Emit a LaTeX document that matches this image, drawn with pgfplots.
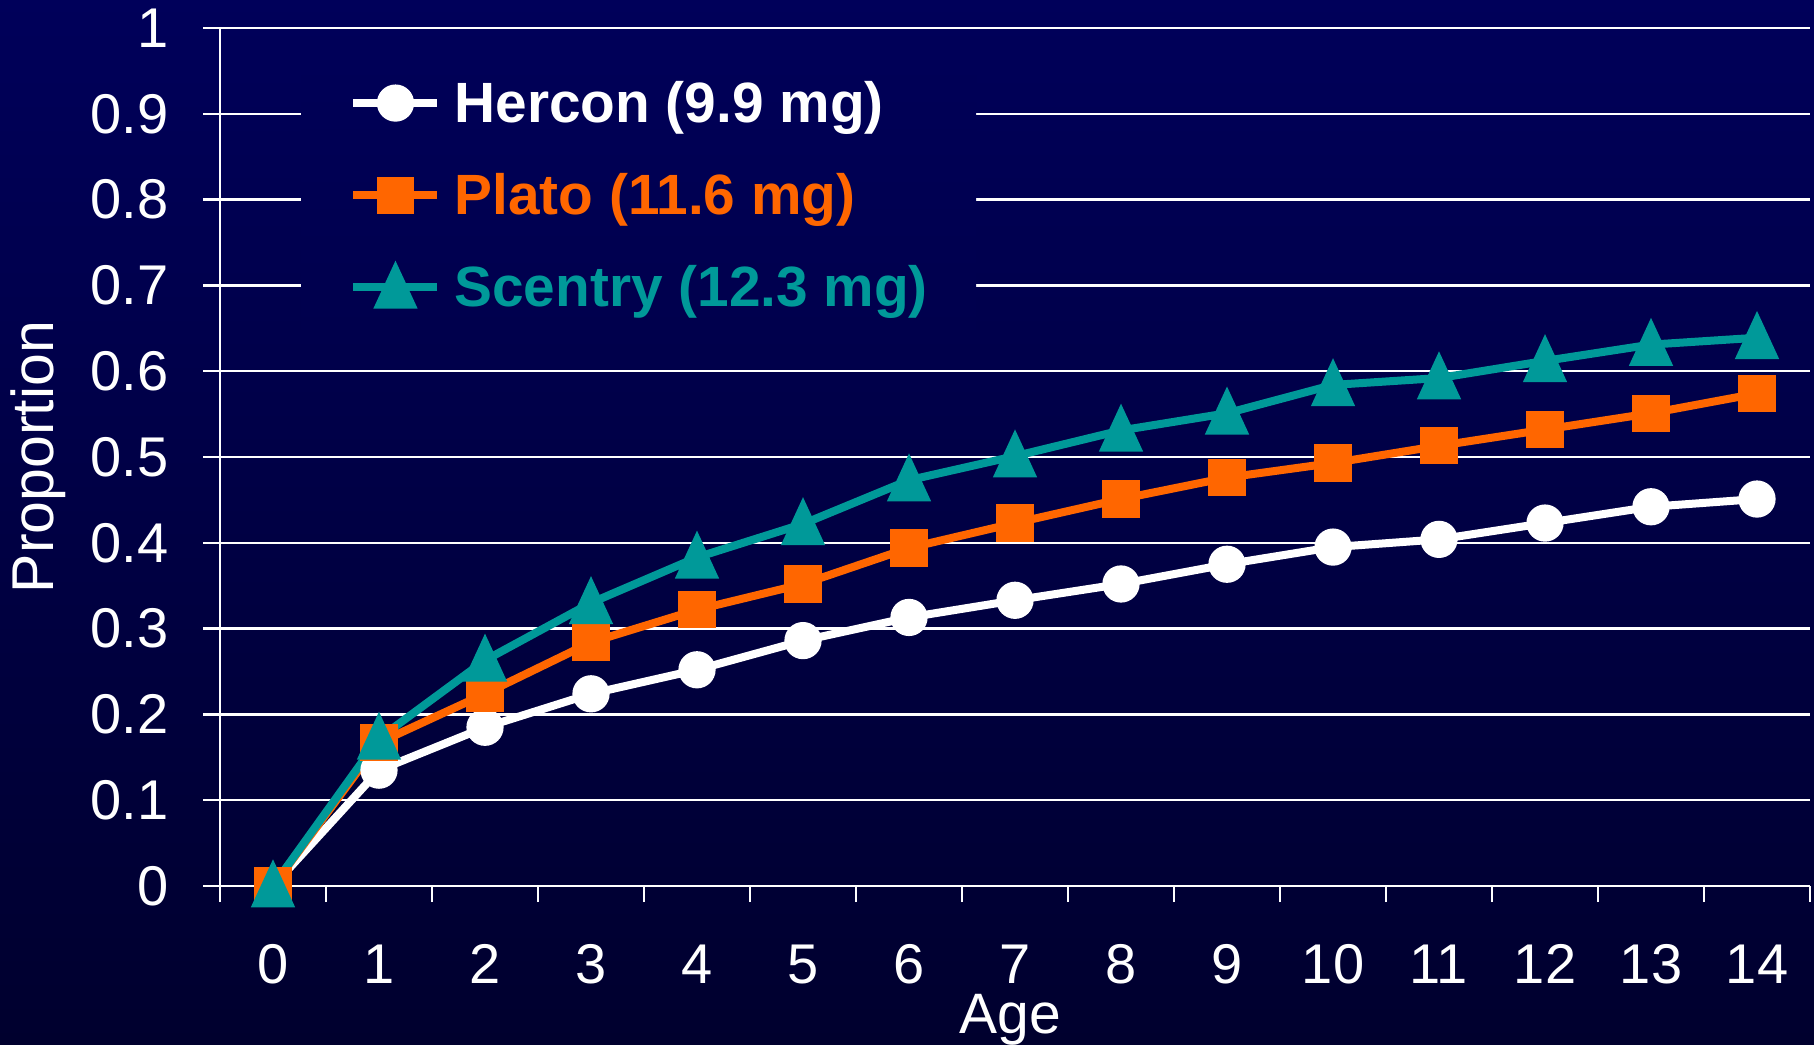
\documentclass[border=0pt]{standalone}
\usepackage{pgfplots}
\pgfplotsset{compat=1.18}
\usepackage{fontspec}
\setmainfont{Liberation Sans}
\definecolor{bgtop}{RGB}{0,0,90}
\definecolor{bgbot}{RGB}{0,0,46}
\definecolor{legtop}{RGB}{0,0,87}
\definecolor{legbot}{RGB}{0,0,77}
\definecolor{plato}{RGB}{255,102,0}
\definecolor{scentry}{RGB}{0,153,153}
\begin{document}
\begin{tikzpicture}
\useasboundingbox (0,0) rectangle (907pt,522pt);
\shade[top color=bgtop, bottom color=bgbot] (0,0) rectangle (907pt,522pt);
\begin{axis}[
  at={(110pt,79pt)}, anchor=south west,
  scale only axis, width=795pt, height=429pt,
  xmin=-0.5, xmax=14.5, ymin=0, ymax=1,
  axis x line*=bottom, axis y line*=left,
  axis line style={white, line width=1.2pt},
  xtick={0,1,2,3,4,5,6,7,8,9,10,11,12,13,14},
  minor xtick={-0.5,0.5,1.5,2.5,3.5,4.5,5.5,6.5,7.5,8.5,9.5,10.5,11.5,12.5,13.5,14.5},
  ytick={0,0.1,0.2,0.3,0.4,0.5,0.6,0.7,0.8,0.9,1},
  tick align=outside,
  major x tick style={draw=none},
  minor x tick style={white, line width=1.2pt},
  major y tick style={white, line width=1.2pt},
  minor tick length=8pt, major tick length=8.5pt,
  ymajorgrids, major grid style={white, line width=1.2pt},
  tick label style={white, font=\fontsize{28}{28}\selectfont},
  /pgf/number format/assume math mode=true,
  /pgf/number format/fixed,
  xticklabel style={inner sep=0pt, anchor=base, yshift=-40pt},
  yticklabel style={inner sep=0pt, anchor=east, xshift=-17pt},
  xlabel={Age}, ylabel={Proportion},
  label style={white, font=\fontsize{28.5}{28.5}\selectfont},
  xlabel style={at={(axis description cs:0.497,-0.156)}, anchor=center, inner sep=0pt},
  ylabel style={at={(axis description cs:-0.1145,0.5)}, anchor=center, inner sep=0pt, font=\fontsize{29.5}{29.5}\selectfont},
  legend style={at={(axis description cs:0.051,0.962)}, anchor=north west,
    top color=legtop, bottom color=legbot, draw=none, inner xsep=24pt, inner ysep=10pt,
    font=\fontsize{28.4}{28.4}\selectfont\bfseries,
    nodes={inner sep=0pt}, row sep=24pt, column sep=6.5pt},
  legend cell align=left,
  legend image code/.code={\draw[mark repeat=2,mark phase=2,#1] plot coordinates {(0pt,0pt) (21pt,0pt) (42pt,0pt)};},
]
\addplot[white, line width=4pt, mark=*, mark size=7.3pt] table {
x y
0 0
1 0.135
2 0.185
3 0.224
4 0.252
5 0.286
6 0.313
7 0.333
8 0.352
9 0.375
10 0.395
11 0.404
12 0.423
13 0.442
14 0.451
};
\addlegendentry{\textcolor{white}{Hercon (9.9 mg)}}
\addplot[plato, line width=4pt, mark=square*, mark size=7.3pt] table {
x y
0 0
1 0.167
2 0.224
3 0.284
4 0.322
5 0.352
6 0.394
7 0.423
8 0.451
9 0.476
10 0.493
11 0.513
12 0.532
13 0.551
14 0.574
};
\addlegendentry{\textcolor{plato}{Plato (11.6 mg)}}
\addplot[scentry, line width=4pt, mark=triangle*, mark size=9.2pt, mark options={yshift=-2.9pt, yscale=1.25}] table {
x y
0 0
1 0.172
2 0.263
3 0.330
4 0.383
5 0.422
6 0.473
7 0.501
8 0.531
9 0.551
10 0.584
11 0.592
12 0.612
13 0.631
14 0.639
};
\addlegendentry{\textcolor{scentry}{Scentry (12.3 mg)}}
\end{axis}
\end{tikzpicture}
\end{document}
